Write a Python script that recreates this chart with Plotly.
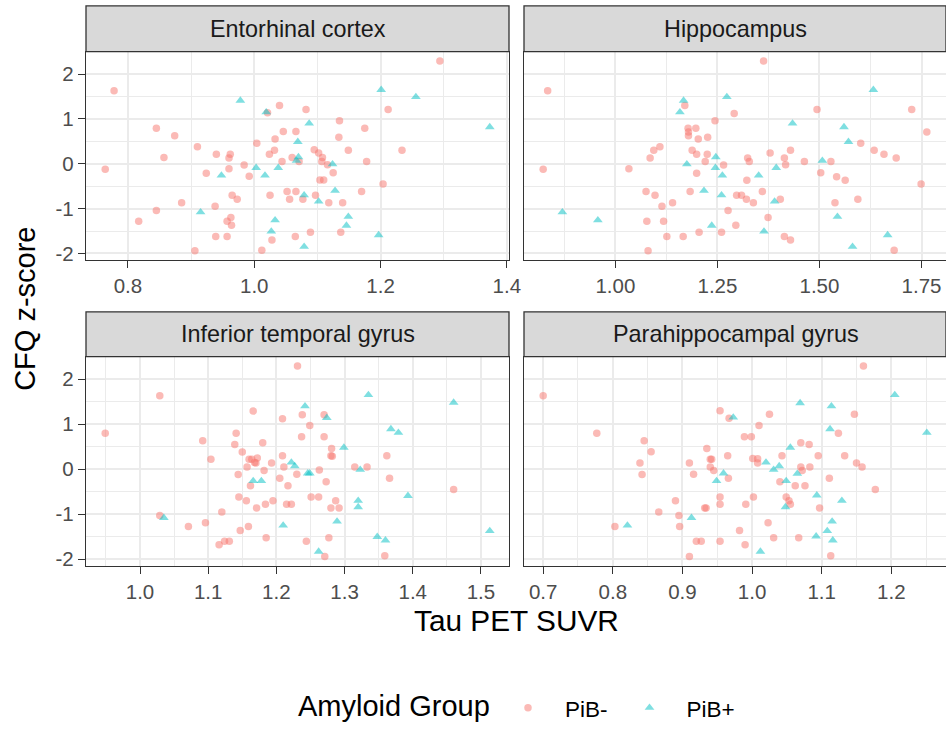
import plotly.graph_objects as go

# ---------------- data ----------------
regions = ["Entorhinal cortex", "Hippocampus", "Inferior temporal gyrus", "Parahippocampal gyrus"]
groups = ["PiB-", "PiB+"]
legend_title = "Amyloid Group"

ento_neg_x = [1.294,0.778,1.040,1.021,1.082,1.212,1.135,0.845,1.046,1.066,1.175,0.874,1.134,1.033,1.004,0.910,1.032,1.095,1.149,1.234,
              0.857,0.940,0.962,0.960,1.024,1.060,1.102,1.108,1.044,1.071,1.107,1.116,1.178,0.764,0.924,0.960,0.984,0.992,1.125,1.104,
              1.110,1.204,0.965,0.973,1.025,1.052,1.066,1.056,1.077,1.097,1.118,1.140,1.170,0.885,0.845,0.938,0.817,0.963,0.957,0.964,
              0.939,0.957,1.028,1.065,1.089,1.137,0.906,1.012]
ento_neg_y = [2.29,1.63,1.30,1.14,1.21,1.21,0.96,0.79,0.72,0.72,0.79,0.625,0.59,0.55,0.46,0.38,0.30,0.31,0.30,0.30,
              0.14,0.21,0.21,0.13,0.21,0.14,0.24,0.14,0.05,0.05,0.05,-0.02,0.05,-0.12,-0.21,-0.11,-0.03,-0.28,-0.20,-0.36,
              -0.36,-0.45,-0.70,-0.79,-0.70,-0.62,-0.62,-0.79,-0.79,-0.70,-0.87,-0.87,-0.62,-0.87,-1.04,-0.95,-1.28,-1.20,-1.28,-1.37,
              -1.62,-1.62,-1.70,-1.62,-1.53,-1.53,-1.94,-1.93]
ento_pos_x = [0.978,1.019,1.201,1.256,1.087,1.373,1.069,1.070,1.067,1.124,1.003,1.038,0.948,1.017,1.128,1.079,1.102,0.915,1.149,1.033,
              1.146,1.027,1.197,1.079]
ento_pos_y = [1.41,1.15,1.65,1.49,0.90,0.82,0.49,0.15,0.07,-0.01,-0.09,-0.09,-0.26,-0.26,-0.60,-0.70,-0.84,-1.08,-1.18,-1.26,
              -1.38,-1.51,-1.59,-1.85]

hipp_neg_x = [1.363,0.834,1.170,1.291,1.494,1.726,1.244,1.178,1.197,1.179,1.179,1.203,1.226,1.763,1.109,1.094,1.188,1.199,1.225,1.085,
              1.220,1.265,1.324,1.328,1.379,1.414,1.429,1.417,1.463,1.528,1.601,1.634,1.658,1.688,0.823,1.033,1.199,1.503,1.542,1.563,
              1.322,1.749,1.075,1.097,1.183,1.297,1.309,1.321,1.360,1.338,1.404,1.538,1.594,1.114,1.140,1.276,1.077,1.118,1.295,1.374,
              1.126,1.166,1.205,1.260,1.414,1.429,1.080,1.683]
hipp_neg_y = [2.29,1.63,1.30,1.12,1.21,1.21,0.96,0.79,0.79,0.71,0.625,0.55,0.59,0.71,0.38,0.30,0.30,0.21,0.21,0.13,
              0.05,-0.03,0.13,0.05,0.24,0.13,0.30,-0.02,0.05,0.05,0.46,0.30,0.21,0.13,-0.12,-0.11,-0.21,-0.20,-0.29,-0.37,
              -0.37,-0.45,-0.62,-0.70,-0.62,-0.70,-0.70,-0.79,-0.62,-0.87,-0.79,-0.87,-0.79,-0.95,-0.87,-1.04,-1.28,-1.28,-1.37,-1.20,
              -1.62,-1.62,-1.53,-1.53,-1.62,-1.70,-1.94,-1.93]
hipp_pos_x = [1.167,1.158,1.273,1.632,1.434,1.560,1.571,1.246,1.507,1.175,1.245,1.394,1.262,1.351,1.217,1.260,1.390,0.870,1.544,0.957,
              1.236,1.364,1.667,1.581]
hipp_pos_y = [1.41,1.15,1.49,1.65,0.90,0.82,0.49,0.15,0.07,-0.01,-0.09,-0.09,-0.26,-0.26,-0.60,-0.70,-0.84,-1.08,-1.18,-1.26,
              -1.38,-1.51,-1.59,-1.85]

itg_neg_x = [1.231,1.029,1.166,1.209,1.238,1.270,1.249,0.949,1.141,1.237,1.270,1.092,1.139,1.180,1.150,1.281,1.280,1.209,1.104,1.160,
             1.172,1.170,1.157,1.193,1.211,1.182,1.362,1.315,1.333,1.263,1.144,1.230,1.205,1.366,1.162,1.217,1.273,1.460,1.145,1.156,
             1.251,1.262,1.287,1.195,1.184,1.171,1.215,1.222,1.280,1.292,1.120,1.029,1.096,1.071,1.159,1.147,1.185,1.124,1.131,1.116,
             1.244,1.277,1.271,1.359,1.164,1.168,1.282]
itg_neg_y = [2.29,1.63,1.29,1.12,1.21,1.21,0.97,0.80,0.80,0.72,0.72,0.63,0.55,0.59,0.38,0.46,0.30,0.30,0.22,0.22,
             0.25,0.14,0.05,0.14,0.05,-0.03,0.30,0.05,0.05,-0.02,-0.12,-0.11,-0.20,-0.20,-0.37,-0.37,-0.28,-0.45,-0.62,-0.70,
             -0.62,-0.62,-0.70,-0.70,-0.78,-0.86,-0.78,-0.78,-0.86,-0.86,-0.95,-1.03,-1.19,-1.27,-1.27,-1.36,-1.52,-1.60,-1.60,-1.68,
             -1.60,-1.52,-1.94,-1.92,0.22,0.15,0.29]
itg_pos_x = [1.242,1.274,1.335,1.460,1.368,1.379,1.299,1.222,1.227,1.323,1.246,1.249,1.166,1.178,1.393,1.320,1.320,1.035,1.289,1.210,
             1.348,1.360,1.513,1.262]
itg_pos_y = [1.40,1.14,1.65,1.48,0.89,0.81,0.48,0.15,0.07,-0.01,-0.09,-0.09,-0.26,-0.26,-0.59,-0.70,-0.84,-1.08,-1.16,-1.25,
             -1.50,-1.58,-1.37,-1.83]

phg_neg_x = [1.160,0.700,0.954,0.967,1.025,1.147,1.010,0.777,0.989,0.999,1.124,0.845,1.070,1.082,0.855,0.935,0.839,0.842,0.910,0.940,
             0.942,0.965,0.940,0.945,0.916,1.001,1.008,1.008,1.043,1.095,1.133,1.070,1.072,1.083,1.150,1.158,0.966,1.040,1.062,1.076,
             1.111,1.177,0.890,0.954,0.954,0.932,0.934,0.991,1.002,1.049,1.053,1.055,1.097,0.866,0.895,0.803,0.896,1.023,0.982,0.920,
             0.927,0.954,1.031,1.067,0.990,0.910,1.113]
phg_neg_y = [2.29,1.63,1.30,1.13,1.22,1.22,0.97,0.80,0.72,0.72,0.80,0.63,0.59,0.55,0.39,0.46,0.14,-0.12,0.14,0.22,
             0.22,0.30,0.05,-0.03,-0.11,0.24,0.23,0.14,0.30,0.30,0.30,0.05,-0.03,0.05,0.14,0.05,-0.20,-0.28,-0.37,-0.37,
             -0.20,-0.45,-0.70,-0.62,-0.78,-0.86,-0.86,-0.78,-0.62,-0.62,-0.70,-0.78,-0.86,-0.95,-1.03,-1.27,-1.27,-1.19,-1.36,-1.60,
             -1.60,-1.60,-1.52,-1.52,-1.68,-1.94,-1.92]
phg_pos_x = [0.973,1.069,1.114,1.205,1.112,1.251,1.055,1.020,1.039,1.031,1.065,0.959,0.949,1.049,1.093,1.129,1.048,0.821,0.913,1.115,
             1.108,1.092,1.116,1.012]
phg_pos_y = [1.15,1.47,1.40,1.65,0.89,0.81,0.48,0.15,0.07,-0.01,-0.10,-0.09,-0.26,-0.26,-0.58,-0.70,-0.84,-1.25,-1.08,-1.16,
             -1.37,-1.49,-1.58,-1.83]

y_tick_vals = [-2, -1, 0, 1, 2]
y_tick_text = ["-2", "-1", "0", "1", "2"]

panel_data = [
    (ento_neg_x, ento_neg_y, ento_pos_x, ento_pos_y),
    (hipp_neg_x, hipp_neg_y, hipp_pos_x, hipp_pos_y),
    (itg_neg_x, itg_neg_y, itg_pos_x, itg_pos_y),
    (phg_neg_x, phg_neg_y, phg_pos_x, phg_pos_y),
]
# x tick settings per panel: (tick0, dtick, minor dtick, format)
x_ticks = [(0.8, 0.2, 0.1, ".1f"), (1.0, 0.25, 0.125, ".2f"), (1.0, 0.1, 0.05, ".1f"), (0.7, 0.1, 0.05, ".1f")]

# ---------------- styling / layout ----------------
W, H = 946, 730
FONT = "Liberation Sans, Arial, Helvetica, sans-serif"
COL_NEG = "#F8766D"
COL_POS = "#00BFC4"
BORDER = "#333333"
GRID = "#EBEBEB"

col_left = [86, 524]
panel_w = 423
strip_top = [6, 314]
panel_top = [52, 359]
panel_bot = [262, 570]

def px(xp):
    return min(max(xp / W, 0), 1)

def py(yp):
    return 1 - yp / H

def expand(vals, frac=0.05):
    lo, hi = min(vals), max(vals)
    d = (hi - lo) * frac
    return [lo - d, hi + d]

all_y = []
for d in panel_data:
    all_y += d[1] + d[3]
y_range = expand(all_y)

fig = go.Figure()
shapes = []
annotations = []

for i, (nx, ny, qx, qy) in enumerate(panel_data):
    r, c = divmod(i, 2)
    k = "" if i == 0 else str(i + 1)
    xa, ya = "x" + k, "y" + k
    fig.add_trace(go.Scatter(
        x=nx, y=ny, mode="markers", name=groups[0], legendgroup=groups[0], showlegend=(i == 0),
        marker=dict(symbol="circle", size=7.5, color=COL_NEG, opacity=0.5, line=dict(width=0)),
        xaxis=xa, yaxis=ya))
    fig.add_trace(go.Scatter(
        x=qx, y=qy, mode="markers", name=groups[1], legendgroup=groups[1], showlegend=(i == 0),
        marker=dict(symbol="triangle-up", size=8.5, color=COL_POS, opacity=0.5, line=dict(width=0)),
        xaxis=xa, yaxis=ya))

    x0p, x1p = col_left[c], col_left[c] + panel_w
    t0, d0, md, fmt = x_ticks[i]
    xr = expand(nx + qx)
    fig.update_layout(**{
        "xaxis" + k: dict(
            domain=[px(x0p), px(x1p)], anchor=ya, range=xr, automargin=False,
            tick0=t0, dtick=d0, tickformat=fmt,
            showgrid=True, gridcolor=GRID, gridwidth=1.8,
            minor=dict(tick0=t0, dtick=md, showgrid=True, gridcolor=GRID, gridwidth=0.9),
            zeroline=False, showline=True, linecolor=BORDER, linewidth=1.3, mirror=True,
            ticks="outside", ticklen=7, tickwidth=1.3, tickcolor=BORDER,
            tickfont=dict(family=FONT, size=20.5, color="#4D4D4D"),
        ),
        "yaxis" + k: dict(
            domain=[py(panel_bot[r]), py(panel_top[r])], anchor=xa, range=y_range, automargin=False,
            tickvals=y_tick_vals, ticktext=y_tick_text,
            showgrid=True, gridcolor=GRID, gridwidth=1.8,
            minor=dict(tick0=0, dtick=0.5, showgrid=True, gridcolor=GRID, gridwidth=0.9),
            zeroline=False, showline=True, linecolor=BORDER, linewidth=1.3, mirror=True,
            ticks="outside" if c == 0 else "", ticklen=7, tickwidth=1.3, tickcolor=BORDER,
            showticklabels=(c == 0),
            tickfont=dict(family=FONT, size=20.5, color="#4D4D4D"),
        ),
    })

    # facet strip
    shapes.append(dict(type="rect", xref="paper", yref="paper",
                       x0=px(x0p), x1=px(x1p), y0=py(panel_top[r]), y1=py(strip_top[r]),
                       fillcolor="#D9D9D9", line=dict(color=BORDER, width=1.3), layer="above"))
    annotations.append(dict(text=regions[i], xref="paper", yref="paper",
                            x=px((x0p + x1p) / 2), y=py((strip_top[r] + panel_top[r]) / 2),
                            xanchor="center", yanchor="middle", showarrow=False,
                            font=dict(family=FONT, size=23.4, color="#1A1A1A")))

annotations.append(dict(text="Tau PET SUVR", xref="paper", yref="paper",
                        x=px(516), y=py(625), xanchor="center", yanchor="middle", showarrow=False,
                        font=dict(family=FONT, size=29.8, color="black")))
annotations.append(dict(text="CFQ z-score", xref="paper", yref="paper", textangle=-90,
                        x=px(25), y=py(311), xanchor="center", yanchor="middle", showarrow=False,
                        font=dict(family=FONT, size=29, color="black")))
annotations.append(dict(text=legend_title, xref="paper", yref="paper",
                        x=px(296), y=py(711), xanchor="left", yanchor="middle", showarrow=False,
                        font=dict(family=FONT, size=29, color="black")))

fig.update_layout(
    width=W, height=H,
    margin=dict(l=0, r=0, t=0, b=0),
    paper_bgcolor="white", plot_bgcolor="white",
    font=dict(family=FONT),
    shapes=shapes, annotations=annotations,
    legend=dict(orientation="h", x=px(491), xanchor="left", y=py(713), yanchor="middle",
                font=dict(family=FONT, size=22.5, color="black"), bgcolor="rgba(0,0,0,0)",
                itemwidth=64, itemsizing="trace"),
)

fig.write_html("out.html", config={"displayModeBar": False},
               post_script="document.body.style.margin='0px';document.body.style.padding='0px';")
